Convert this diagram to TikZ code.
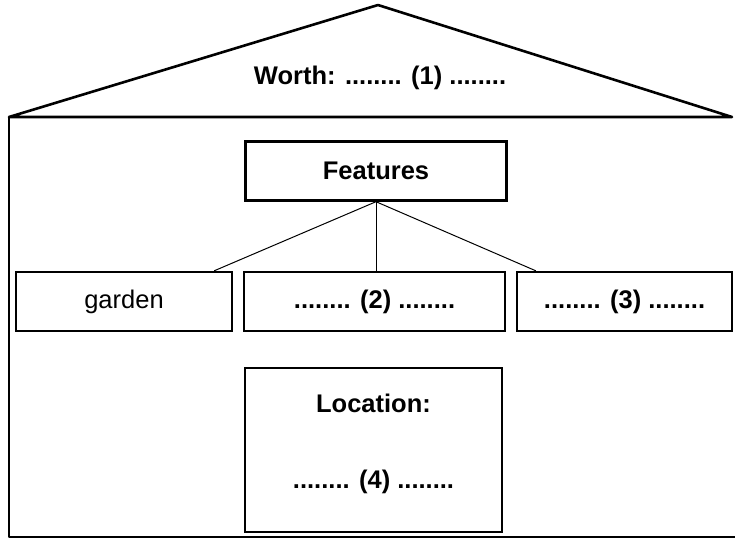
\documentclass[tikz,border=0pt]{standalone}
\usepackage{fontspec}
\setmainfont{Liberation Sans}
\begin{document}
\begin{tikzpicture}[x=1pt,y=-1pt,
  house/.style={line width=2.6pt,line join=round},
  box/.style={draw,line width=2.4pt,rectangle,inner sep=0pt,minimum height=59pt,font=\fontsize{25.5}{28}\selectfont},
  bt/.style={font=\fontsize{25.5}{28}\selectfont\bfseries},
  link/.style={line width=1pt}]
\useasboundingbox (0,0) rectangle (735,539);
% roof and walls
\coordinate (apex) at (378,5);
\coordinate (eaveL) at (9,117);
\coordinate (eaveR) at (732,117);
\coordinate (baseL) at (9,537);
\coordinate (baseR) at (735,537);
\draw[house] (eaveL) -- (apex) -- (eaveR) -- cycle;
\draw[house] (eaveL) -- (baseL) -- (baseR);
\node[bt] (worth) at (380,78) {Worth: ........ (1) ........};
% boxes
\node[box,bt,minimum width=261pt] (feat) at (376,171) {Features};
\node[box,minimum width=216pt] (garden) at (124,301.5) {garden};
\node[box,bt,minimum width=261pt] (b2) at (374.5,301.5) {........ (2) ........};
\node[box,bt,minimum width=215pt] (b3) at (624.5,301.5) {........ (3) ........};
\node[box,minimum width=257pt,minimum height=164pt] (loc) at (373.5,450) {};
\node[bt] (loct) at (373.5,403) {Location:};
\node[bt] (b4) at (373.5,482) {........ (4) ........};
% connectors
\draw[link] (feat.south) -- ([xshift=-19pt]garden.north east);
\draw[link] (feat.south) -- (b2.north -| feat.south);
\draw[link] (feat.south) -- ([xshift=20pt]b3.north west);
\end{tikzpicture}
\end{document}
